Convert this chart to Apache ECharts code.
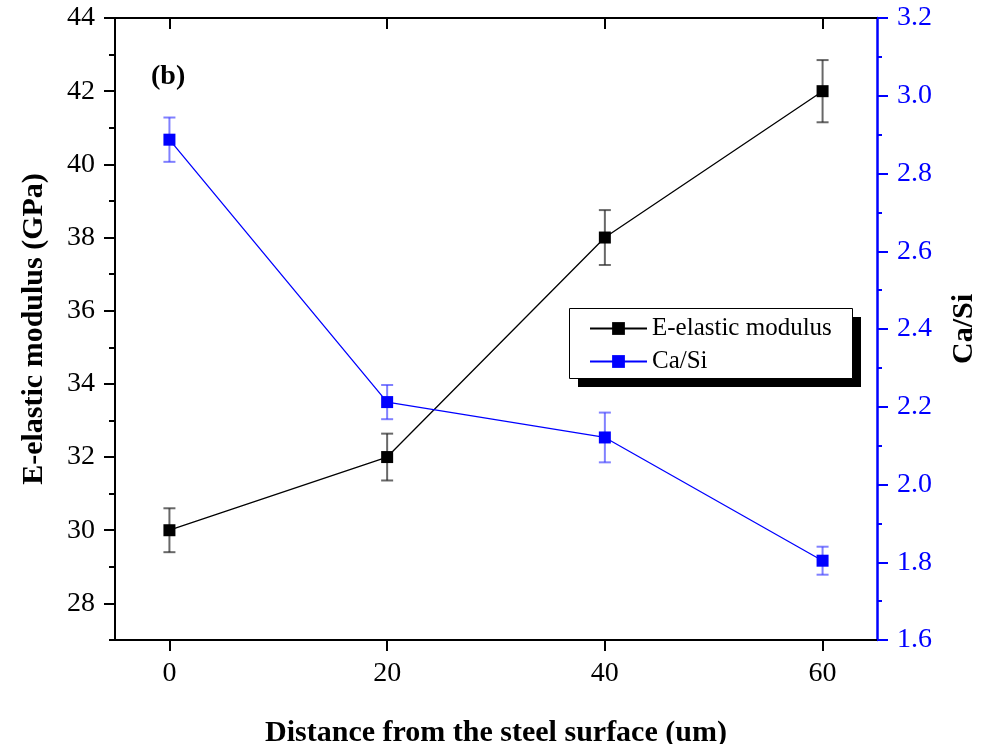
<!DOCTYPE html>
<html>
<head>
<meta charset="utf-8">
<script src="https://cdn.jsdelivr.net/npm/echarts@6/dist/echarts.min.js"></script>
<style>
  html, body { margin: 0; padding: 0; background: #fff; }
  #chart { width: 985px; height: 744px; }
</style>
</head>
<body>
<div id="chart"></div>
<script>
// Distance from the steel surface (um)
const distances = [0, 20, 40, 60];
// E-elastic modulus (GPa) and its standard deviation
const eModulus = [30, 32, 38, 42];
const eModulusErr = [0.6, 0.64, 0.75, 0.85];
// Ca/Si ratio and its standard deviation
const caSi = [2.887, 2.212, 2.121, 1.804];
const caSiErr = [0.057, 0.044, 0.064, 0.036];

const xTicks = [0, 20, 40, 60];
const leftMajor = [28, 30, 32, 34, 36, 38, 40, 42, 44];
const leftMinor = [27, 29, 31, 33, 35, 37, 39, 41, 43];

const FONT = '"Liberation Serif", "Times New Roman", serif';
const BLUE = '#0000ff';

const pairs = (xs, ys) => xs.map((x, i) => [x, ys[i]]);
const errRows = (xs, ys, es) => xs.map((x, i) => [x, ys[i] - es[i], ys[i] + es[i]]);

// Vertical error bar with short caps
function errorBar(color) {
  return function (params, api) {
    const x = api.value(0);
    const lo = api.coord([x, api.value(1)]);
    const hi = api.coord([x, api.value(2)]);
    const cap = 6;
    const style = { stroke: color, lineWidth: 2 };
    return {
      type: 'group',
      children: [
        { type: 'line', shape: { x1: lo[0], y1: lo[1], x2: hi[0], y2: hi[1] }, style },
        { type: 'line', shape: { x1: lo[0] - cap, y1: lo[1], x2: lo[0] + cap, y2: lo[1] }, style },
        { type: 'line', shape: { x1: hi[0] - cap, y1: hi[1], x2: hi[0] + cap, y2: hi[1] }, style }
      ]
    };
  };
}

const chart = echarts.init(document.getElementById('chart'), null, { renderer: 'canvas' });

chart.setOption({
  animation: false,
  backgroundColor: '#fff',
  textStyle: { fontFamily: FONT },
  grid: { left: 115, right: 108, top: 18, bottom: 104, containLabel: false, outerBoundsMode: 'none' },
  graphic: [{
    type: 'text',
    left: 151,
    top: 63,
    style: { text: '(b)', font: 'bold 28px ' + FONT, fill: '#000' }
  }, {
    // legend frame with a solid drop shadow
    type: 'rect',
    left: 578,
    top: 317,
    shape: { width: 283, height: 70 },
    style: { fill: '#000' },
    z: 10
  }, {
    type: 'rect',
    left: 569,
    top: 308,
    shape: { width: 283, height: 70 },
    style: { fill: '#fff', stroke: '#000', lineWidth: 1 },
    z: 11
  }],
  legend: {
    left: 569,
    top: 308,
    orient: 'vertical',
    data: ['E-elastic modulus', 'Ca/Si'],
    padding: [8, 17, 5, 20],
    itemGap: 8,
    itemWidth: 57,
    itemHeight: 16,
    z: 20,
    textStyle: { fontFamily: FONT, fontSize: 25, color: '#000' }
  },
  xAxis: [{
    type: 'value',
    min: -5,
    max: 65,
    name: 'Distance from the steel surface (um)',
    nameLocation: 'middle',
    nameGap: 78,
    nameTextStyle: { fontFamily: FONT, fontSize: 30, fontWeight: 'bold', color: '#000' },
    axisLine: { show: true, onZero: false, lineStyle: { color: '#000', width: 2 } },
    axisTick: { show: true, length: 11, lineStyle: { color: '#000', width: 2 }, customValues: xTicks },
    axisLabel: { fontFamily: FONT, fontSize: 28, color: '#000', margin: 20, customValues: xTicks },
    splitLine: { show: false }
  }, {
    type: 'value',
    position: 'top',
    min: -5,
    max: 65,
    axisLine: { show: true, onZero: false, lineStyle: { color: '#000', width: 2 } },
    axisTick: { show: true, inside: true, length: 11, lineStyle: { color: '#000', width: 2 }, customValues: xTicks },
    axisLabel: { show: false },
    splitLine: { show: false }
  }],
  yAxis: [{
    type: 'value',
    position: 'left',
    min: 27,
    max: 44,
    name: 'E-elastic modulus (GPa)',
    nameLocation: 'middle',
    nameGap: 66,
    nameTextStyle: { fontFamily: FONT, fontSize: 30, fontWeight: 'bold', color: '#000' },
    axisLine: { show: true, onZero: false, lineStyle: { color: '#000', width: 2 } },
    axisTick: { show: true, length: 11, lineStyle: { color: '#000', width: 2 }, customValues: leftMajor },
    axisLabel: { fontFamily: FONT, fontSize: 28, color: '#000', margin: 20, customValues: leftMajor },
    splitLine: { show: false }
  }, {
    type: 'value',
    position: 'right',
    min: 1.6,
    max: 3.2,
    interval: 0.2,
    name: 'Ca/Si',
    nameLocation: 'middle',
    nameRotate: 90,
    nameGap: 72,
    nameTextStyle: { fontFamily: FONT, fontSize: 30, fontWeight: 'bold', color: '#000' },
    axisLine: { show: true, onZero: false, lineStyle: { color: BLUE, width: 2.5 } },
    axisTick: { show: true, length: 11, lineStyle: { color: BLUE, width: 2 } },
    minorTick: { show: true, splitNumber: 2, length: 5, lineStyle: { color: BLUE, width: 2 } },
    axisLabel: {
      fontFamily: FONT, fontSize: 28, color: BLUE, margin: 20,
      formatter: v => v.toFixed(1)
    },
    splitLine: { show: false },
    minorSplitLine: { show: false }
  }, {
    // minor ticks of the modulus axis
    type: 'value',
    position: 'left',
    min: 27,
    max: 44,
    axisLine: { show: false, onZero: false },
    axisTick: { show: true, length: 6, lineStyle: { color: '#000', width: 2 }, customValues: leftMinor },
    axisLabel: { show: false },
    splitLine: { show: false }
  }],
  series: [{
    name: 'E-elastic modulus',
    type: 'line',
    xAxisIndex: 0,
    yAxisIndex: 0,
    data: pairs(distances, eModulus),
    symbol: 'rect',
    symbolSize: 12,
    lineStyle: { color: '#000', width: 1.3 },
    itemStyle: { color: '#000' },
    z: 3
  }, {
    name: 'Ca/Si',
    type: 'line',
    xAxisIndex: 0,
    yAxisIndex: 1,
    data: pairs(distances, caSi),
    symbol: 'rect',
    symbolSize: 12,
    lineStyle: { color: BLUE, width: 1.3 },
    itemStyle: { color: BLUE },
    z: 3
  }, {
    type: 'custom',
    xAxisIndex: 0,
    yAxisIndex: 0,
    data: errRows(distances, eModulus, eModulusErr),
    renderItem: errorBar('rgba(40,40,40,0.7)'),
    encode: { x: 0, y: [1, 2] },
    silent: true,
    z: 2
  }, {
    type: 'custom',
    xAxisIndex: 0,
    yAxisIndex: 1,
    data: errRows(distances, caSi, caSiErr),
    renderItem: errorBar('rgba(60,60,255,0.65)'),
    encode: { x: 0, y: [1, 2] },
    silent: true,
    z: 2
  }]
});
</script>
</body>
</html>
